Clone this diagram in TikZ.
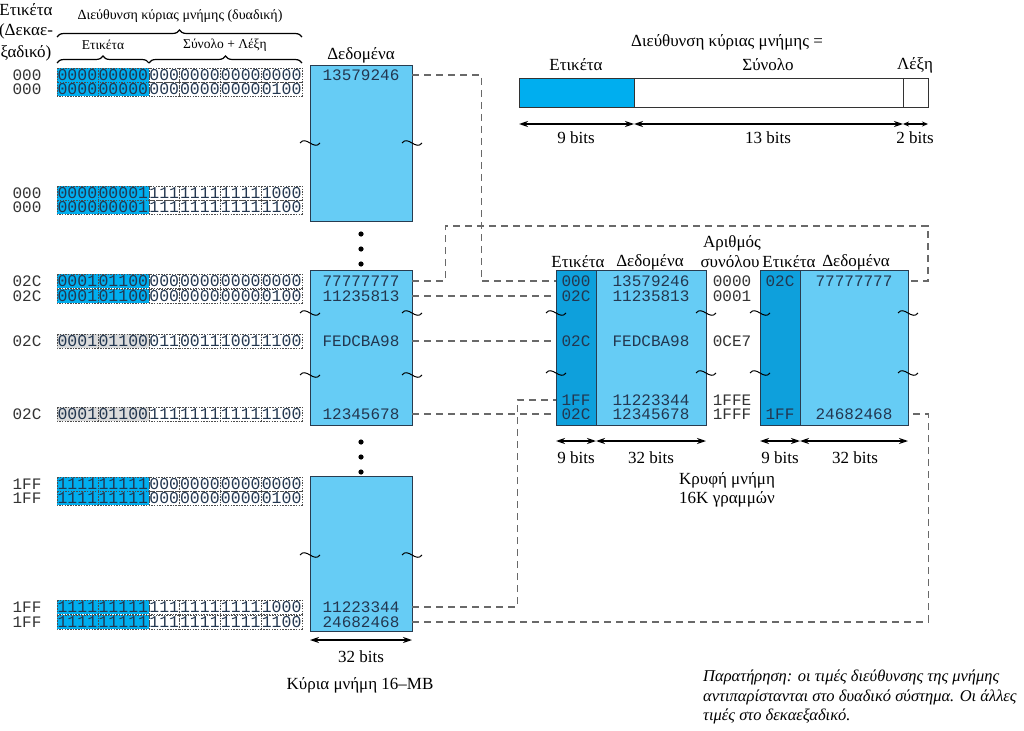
\documentclass[tikz,border=0pt]{standalone}
\usepackage{fontspec}
\setmainfont{Liberation Serif}
\setmonofont{Liberation Mono}
\usetikzlibrary{arrows.meta,decorations.pathreplacing}
\definecolor{tagblue}{RGB}{0,174,239}
\definecolor{cachetag}{RGB}{14,160,220}
\definecolor{datablue}{RGB}{102,204,245}
\definecolor{edgec}{RGB}{40,60,80}
\definecolor{txtc}{RGB}{35,55,80}
\definecolor{connc}{RGB}{105,105,105}
\definecolor{hlgray}{RGB}{220,220,220}
\newcommand\binrow[8]{%
  \fill[#2] (57,#1-7) rectangle (148.9,#1+7);
  \draw[grp] (57,#1-7) rectangle (97.8,#1+7);
  \draw[grp] (97.8,#1-7) rectangle (148.9,#1+7);
  \draw[grp] (148.9,#1-7) rectangle (179.5,#1+7);
  \draw[grp] (179.5,#1-7) rectangle (220.3,#1+7);
  \draw[grp] (220.3,#1-7) rectangle (261.2,#1+7);
  \draw[grp] (261.2,#1-7) rectangle (302,#1+7);
  \node[binmono] (b#1a) at (77.4,#1) {#3};
  \node[binmono] (b#1b) at (123.35,#1) {#4};
  \node[binmono] (b#1c) at (164.2,#1) {#5};
  \node[binmono] (b#1d) at (199.9,#1) {#6};
  \node[binmono] (b#1e) at (240.75,#1) {#7};
  \node[binmono] (b#1f) at (281.6,#1) {#8};
}
\newcommand\tildemark[2]{%
  \draw[tldm] (#1-10,#2) .. controls (#1-4,#2-8) and (#1+4,#2+8) .. (#1+10,#2);}
\begin{document}
\begin{tikzpicture}[x=1pt,y=-1pt,
  lbl/.style={font=\fontsize{17}{20}\selectfont, inner sep=0pt},
  small/.style={font=\fontsize{13.5}{16}\selectfont, inner sep=0pt},
  note/.style={font=\fontsize{16.5}{19}\selectfont\itshape, inner sep=0pt, anchor=west},
  mono/.style={font=\fontsize{16}{16}\selectfont\ttfamily, text=txtc, inner sep=0pt},
  addr/.style={font=\fontsize{16}{16}\selectfont\ttfamily, text=black!80, inner sep=0pt},
  binmono/.style={font=\fontsize{16.5}{16}\selectfont\ttfamily, text=txtc, inner sep=0pt},
  grp/.style={draw=black!70, dash pattern=on 1.5pt off 1.2pt, line width=0.6pt},
  membox/.style={draw=edgec, line width=1pt, fill=datablue},
  conn/.style={draw=connc, dash pattern=on 7pt off 5pt, line width=1.2pt},
  dimarrow/.style={{Stealth[length=9pt,width=6pt]}-{Stealth[length=9pt,width=6pt]}, line width=1.3pt},
  tldm/.style={line width=1pt, black},
  brc/.style={decorate, decoration={brace, amplitude=7pt}, line width=1.2pt}
]
\useasboundingbox (0,0) rectangle (1024,730);

% ---------- left header ----------
\node[lbl] (hl1) at (26,10) {Ετικέτα};
\node[lbl] (hl2) at (26,31) {(Δεκαε-};
\node[lbl] (hl3) at (26,53) {ξαδικό)};
\node[small, font=\fontsize{14}{16}\selectfont] (hbin) at (180,16) {Διεύθυνση κύριας μνήμης (δυαδική)};
\draw[brc] (57,37) -- (302,37);
\node[small] (htag) at (103,45) {Ετικέτα};
\node[small] (hset) at (225,45) {Σύνολο + Λέξη};
\draw[brc] (57,63) -- (148.9,63);
\draw[brc] (148.9,63) -- (302,63);

% ---------- binary rows ----------
\binrow{75}{tagblue}{0000}{00000}{000}{0000}{0000}{0000}
\binrow{89}{tagblue}{0000}{00000}{000}{0000}{0000}{0100}
\binrow{193}{tagblue}{0000}{00001}{111}{1111}{1111}{1000}
\binrow{207}{tagblue}{0000}{00001}{111}{1111}{1111}{1100}
\binrow{281}{tagblue}{0001}{01100}{000}{0000}{0000}{0000}
\binrow{296}{tagblue}{0001}{01100}{000}{0000}{0000}{0100}
\binrow{341}{hlgray}{0001}{01100}{011}{0011}{1001}{1100}
\binrow{414}{hlgray}{0001}{01100}{111}{1111}{1111}{1100}
\binrow{484}{tagblue}{1111}{11111}{000}{0000}{0000}{0000}
\binrow{498}{tagblue}{1111}{11111}{000}{0000}{0000}{0100}
\binrow{607}{tagblue}{1111}{11111}{111}{1111}{1111}{1000}
\binrow{622}{tagblue}{1111}{11111}{111}{1111}{1111}{1100}

% left hex labels
\node[addr] (a1) at (27,75) {000};
\node[addr] (a2) at (27,89) {000};
\node[addr] (a3) at (27,193) {000};
\node[addr] (a4) at (27,207) {000};
\node[addr] (a5) at (27,281) {02C};
\node[addr] (a6) at (27,296) {02C};
\node[addr] (a7) at (27,341) {02C};
\node[addr] (a8) at (27,414) {02C};
\node[addr] (a9) at (27,484) {1FF};
\node[addr] (a10) at (27,498) {1FF};
\node[addr] (a11) at (27,607) {1FF};
\node[addr] (a12) at (27,622) {1FF};

% ---------- main memory ----------
\node[lbl] (mhead) at (361,55) {Δεδομένα};
\draw[membox] (310,66) rectangle (412,221);
\draw[membox] (310,270) rectangle (412,425);
\draw[membox] (310,476) rectangle (412,631);
\node[mono, minimum width=102pt] (m1) at (361,75) {13579246};
\node[mono, minimum width=102pt] (m77) at (361,281) {77777777};
\node[mono, minimum width=102pt] (m2) at (361,296) {11235813};
\node[mono, minimum width=102pt] (m3) at (361,341) {FEDCBA98};
\node[mono, minimum width=102pt] (m4) at (361,414) {12345678};
\node[mono, minimum width=102pt] (m5) at (361,607) {11223344};
\node[mono, minimum width=102pt] (m6) at (361,622) {24682468};
\foreach \yy in {234,249,264,442,457,472} \fill (361,\yy) circle[radius=2.6pt];
\foreach \yy in {143,313,375,555} {\tildemark{310}{\yy}\tildemark{412}{\yy}}
\draw[dimarrow] (310,640) -- (412,640);
\node[lbl] (m32) at (361,657) {32 bits};
\node[lbl] (mcap) at (360,685) {Κύρια μνήμη 16–MB};

% ---------- cache way 0 ----------
\node[lbl] (c0h1) at (578,262) {Ετικέτα};
\node[lbl] (c0h2) at (650,262) {Δεδομένα};
\draw[membox] (556,270) rectangle (706,425);
\fill[cachetag] (556,270) rectangle (596,425);
\draw[edgec, line width=1pt] (556,270) rectangle (706,425);
\draw[edgec, line width=1pt] (596,270) -- (596,425);
\node[mono, minimum width=40pt] (c0t1) at (576,281) {000};
\node[mono, minimum width=40pt] (c0t2) at (576,296) {02C};
\node[mono, minimum width=40pt] (c0t3) at (576,341) {02C};
\node[mono, minimum width=40pt] (c0t4) at (576,400) {1FF};
\node[mono, minimum width=40pt] (c0t5) at (576,414) {02C};
\node[mono] (c0d1) at (651,281) {13579246};
\node[mono] (c0d2) at (651,296) {11235813};
\node[mono] (c0d3) at (651,341) {FEDCBA98};
\node[mono] (c0d4) at (651,400) {11223344};
\node[mono] (c0d5) at (651,414) {12345678};
\foreach \yy in {313,373} {\tildemark{556}{\yy}\tildemark{706}{\yy}}
\draw[dimarrow] (556,441) -- (596,441);
\draw[dimarrow] (596,441) -- (706,441);
\node[lbl] (c0b9) at (576,458) {9 bits};
\node[lbl] (c0b32) at (651,458) {32 bits};

% set numbers
\node[lbl] (sh1) at (732,243) {Αριθμός};
\node[lbl] (sh2) at (730,262) {συνόλου};
\node[addr] (s1) at (732,281) {0000};
\node[addr] (s2) at (732,296) {0001};
\node[addr] (s3) at (732,341) {0CE7};
\node[addr] (s4) at (732,400) {1FFE};
\node[addr] (s5) at (732,414) {1FFF};

% ---------- cache way 1 ----------
\node[lbl] (c1h1) at (789,262) {Ετικέτα};
\node[lbl] (c1h2) at (856,262) {Δεδομένα};
\draw[membox] (760,270) rectangle (908,425);
\fill[cachetag] (760,270) rectangle (800,425);
\draw[edgec, line width=1pt] (760,270) rectangle (908,425);
\draw[edgec, line width=1pt] (800,270) -- (800,425);
\node[mono, minimum width=40pt] (c1t1) at (780,281) {02C};
\node[mono, minimum width=40pt] (c1t2) at (780,414) {1FF};
\node[mono, minimum width=108pt] (c1d1) at (854,281) {77777777};
\node[mono, minimum width=108pt] (c1d2) at (854,414) {24682468};
\foreach \yy in {313,373} {\tildemark{760}{\yy}\tildemark{908}{\yy}}
\draw[dimarrow] (760,441) -- (800,441);
\draw[dimarrow] (800,441) -- (908,441);
\node[lbl] (c1b9) at (780,458) {9 bits};
\node[lbl] (c1b32) at (855,458) {32 bits};

\node[lbl] (cc1) at (727,480) {Κρυφή μνήμη};
\node[lbl] (cc2) at (727,499) {16K γραμμών};

% ---------- connectors ----------
\draw[conn] (m1.east) -- ++(69,0) |- (c0t1.west);
\draw[conn] (m77.east) -- ++(33,0) |- (928,226) |- (c1d1.east);
\draw[conn] (m2.east) -- (c0t2.west);
\draw[conn] (m3.east) -- (c0t3.west);
\draw[conn] (m4.east) -- (c0t5.west);
\draw[conn] (m5.east) -- ++(105,0) |- (c0t4.west);
\draw[conn] (m6.east) -- ++(516,0) |- (c1d2.east);

% ---------- address format ----------
\node[lbl] (ft) at (727,42) {Διεύθυνση κύριας μνήμης =};
\node[lbl] (fl1) at (576,65) {Ετικέτα};
\node[lbl] (fl2) at (768,65) {Σύνολο};
\node[lbl] (fl3) at (915,65) {Λέξη};
\fill[tagblue] (519,78) rectangle (634,107);
\draw[black!80, line width=0.8pt] (519,78) rectangle (928,107);
\draw[black!80, line width=0.8pt] (634,78) -- (634,107);
\draw[black!80, line width=0.8pt] (903,78) -- (903,107);
\draw[dimarrow] (519,124) -- (634,124);
\draw[dimarrow] (634,124) -- (903,124);
\draw[{Stealth[length=6pt,width=5pt]}-{Stealth[length=6pt,width=5pt]}, line width=1.3pt] (903,124) -- (928,124);
\node[lbl] (fb1) at (576,138) {9 bits};
\node[lbl] (fb2) at (768,138) {13 bits};
\node[lbl] (fb3) at (915,138) {2 bits};

% ---------- note ----------
\node[note] (n1) at (703,677) {Παρατήρηση: οι τιμές διεύθυνσης της μνήμης};
\node[note] (n2) at (703,697) {αντιπαρίστανται στο δυαδικό σύστημα. Οι άλλες};
\node[note] (n3) at (703,716) {τιμές στο δεκαεξαδικό.};
\end{tikzpicture}
\end{document}
